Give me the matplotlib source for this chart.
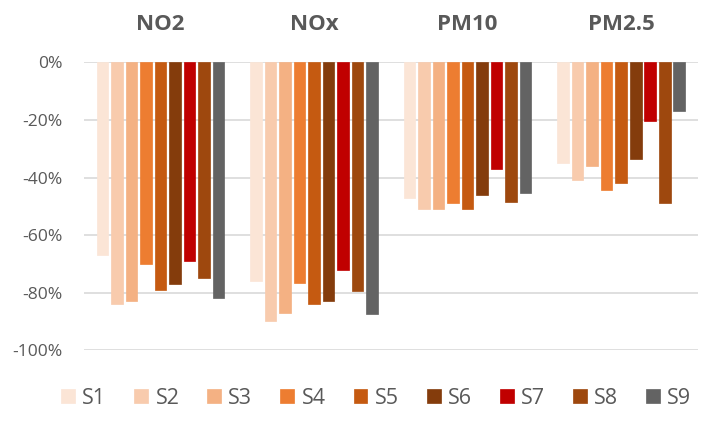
import matplotlib
matplotlib.use("Agg")
import matplotlib.pyplot as plt
import numpy as np
from matplotlib.ticker import FuncFormatter

categories = ["NO2", "NOx", "PM10", "PM2.5"]
series = ["S1", "S2", "S3", "S4", "S5", "S6", "S7", "S8", "S9"]
S1 = [-0.67, -0.76, -0.47, -0.35]
S2 = [-0.84, -0.90, -0.51, -0.41]
S3 = [-0.83, -0.87, -0.51, -0.36]
S4 = [-0.70, -0.765, -0.49, -0.445]
S5 = [-0.79, -0.84, -0.51, -0.42]
S6 = [-0.77, -0.83, -0.46, -0.335]
S7 = [-0.69, -0.72, -0.37, -0.205]
S8 = [-0.75, -0.795, -0.485, -0.49]
S9 = [-0.82, -0.875, -0.455, -0.17]
values = [S1, S2, S3, S4, S5, S6, S7, S8, S9]
colors = ["#FBE5D6", "#F8CBAD", "#F4B183", "#ED7D31", "#C55A11",
          "#843C0C", "#C00000", "#9E480E", "#636363"]

plt.rcParams['font.family'] = ['Open Sans', 'DejaVu Sans']

fig = plt.figure(figsize=(7.10, 4.28), dpi=100)
ax = fig.add_axes([0.118, 0.182, 0.865, 0.672])

x = np.arange(len(categories))
pitch = 0.0945
width = 0.076
for j, (name, vals, c) in enumerate(zip(series, values, colors)):
    ax.bar(x + (j - 4) * pitch, vals, width=width, color=c, label=name,
           edgecolor=c, linewidth=0.5, zorder=3)

ax.set_ylim(-1.0, 0.0)
ax.set_xlim(-0.5, len(categories) - 0.5)
ax.set_yticks(np.arange(-1.0, 0.01, 0.2))
ax.yaxis.set_major_formatter(FuncFormatter(lambda v, p: "%d%%" % int(round(v * 100))))
ax.grid(axis='y', color='#D9D9D9', linewidth=1.2, zorder=0)
ax.set_axisbelow(True)
for s in ax.spines.values():
    s.set_visible(False)

ax.xaxis.tick_top()
ax.set_xticks(x)
ax.set_xticklabels(categories, fontsize=16, fontweight='bold', color='#595959')
ax.tick_params(axis='x', length=0, pad=20)
ax.tick_params(axis='y', length=0, pad=15, labelsize=12.6, labelcolor='#595959')

leg = fig.legend(loc='center', bbox_to_anchor=(0.53, 0.07), ncol=9, frameon=False,
                 fontsize=15.5, handlelength=0.65, handleheight=0.65, handletextpad=0.33,
                 columnspacing=1.3)
for t in leg.get_texts():
    t.set_color('#595959')

fig.savefig("out.png", dpi=100)
